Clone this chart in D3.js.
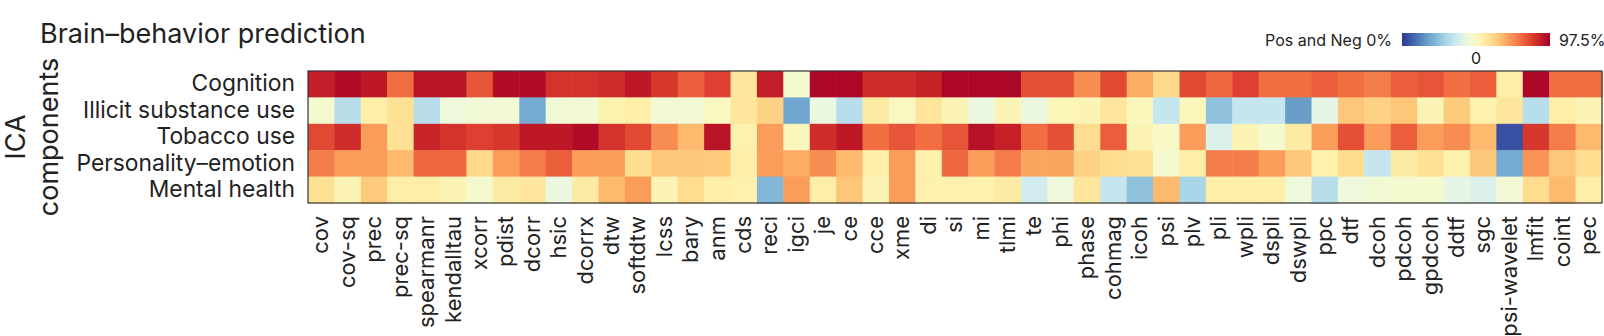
<!DOCTYPE html>
<html><head><meta charset="utf-8">
<script src="https://cdn.jsdelivr.net/npm/d3@7"></script>
<style>body{margin:0;background:#fff}text{font-family:Inter,"Open Sans",sans-serif;fill:#222}</style>
</head><body><svg id="c" width="1604" height="336"></svg>
<script>
const methods = ["cov","cov-sq","prec","prec-sq","spearmanr","kendalltau","xcorr","pdist","dcorr","hsic","dcorrx","dtw","softdtw","lcss","bary","anm","cds","reci","igci","je","ce","cce","xme","di","si","mi","tlmi","te","phi","phase","cohmag","icoh","psi","plv","pli","wpli","dspli","dswpli","ppc","dtf","dcoh","pdcoh","gpdcoh","ddtf","sgc","psi-wavelet","lmfit","coint","pec"];
const components = ["Cognition","Illicit substance use","Tobacco use","Personality–emotion","Mental health"];
const cognition = [0.88,0.95,0.9,0.6,0.92,0.92,0.68,0.95,0.95,0.8,0.8,0.82,0.9,0.78,0.65,0.75,0.15,0.88,-0.05,0.97,0.97,0.82,0.82,0.86,0.97,0.97,0.97,0.7,0.7,0.5,0.72,0.4,0.22,0.72,0.62,0.75,0.6,0.6,0.65,0.6,0.55,0.65,0.68,0.6,0.65,0.1,0.97,0.6,0.6];
const illicit = [-0.05,-0.35,0.1,0.18,-0.35,-0.1,-0.08,-0.08,-0.6,-0.08,-0.08,0.06,0.1,-0.08,-0.08,0.0,0.15,0.25,-0.62,-0.12,-0.35,0.12,0.0,0.16,0.05,-0.12,0.05,-0.12,0.03,0.05,0.15,0.02,-0.3,0.02,-0.5,-0.3,-0.3,-0.65,-0.15,0.3,0.25,0.3,0.05,0.28,0.08,0.15,-0.35,0.1,0.05];
const tobacco = [0.72,0.82,0.45,0.18,0.85,0.8,0.75,0.78,0.9,0.9,0.95,0.8,0.72,0.5,0.35,0.92,0.08,0.45,0.02,0.82,0.9,0.6,0.68,0.6,0.68,0.93,0.87,0.6,0.7,0.2,0.65,0.05,-0.02,0.45,-0.2,0.05,-0.05,0.12,0.45,0.7,0.45,0.65,0.45,0.5,0.35,-0.92,0.78,0.55,0.35];
const personality = [0.55,0.45,0.45,0.35,0.62,0.62,0.22,0.45,0.55,0.65,0.45,0.45,0.2,0.3,0.3,0.28,0.1,0.45,0.4,0.5,0.35,0.1,0.45,0.08,0.62,0.45,0.55,0.42,0.42,0.25,0.2,0.18,-0.05,0.1,0.55,0.55,0.45,0.3,0.08,0.2,-0.3,0.12,0.18,0.08,0.3,-0.6,0.48,0.3,0.2];
const mental = [0.18,0.05,0.28,0.1,0.1,0.05,-0.05,0.12,0.15,-0.12,0.12,0.35,0.45,0.05,0.2,0.1,0.08,-0.55,0.45,0.1,0.3,0.05,0.45,0.08,0.08,0.08,0.12,-0.25,-0.1,0.15,-0.3,-0.5,0.35,-0.4,0.1,0.1,0.1,-0.1,-0.35,-0.1,-0.08,-0.05,-0.05,-0.15,-0.2,-0.08,0.2,0.35,0.1];
const seriesValues = [cognition, illicit, tobacco, personality, mental];
const legendLabels = ["Pos and Neg 0%", "97.5%", "0"];

const svg = d3.select("#c");
const L = 308, R = 1602, T = 71, B = 203;
const x = d3.scaleBand().domain(methods).range([L, R]);
const y = d3.scaleBand().domain(components).range([T, B]);
const color = d3.scaleSequential(t => d3.interpolateRdYlBu(1 - t)).domain([-1, 1]);

const cells = [];
components.forEach((c, j) => methods.forEach((m, i) => cells.push({c, m, v: seriesValues[j][i]})));
svg.append("g").selectAll("rect").data(cells).join("rect")
  .attr("x", d => x(d.m)).attr("y", d => y(d.c))
  .attr("width", x.bandwidth() + 0.5).attr("height", y.bandwidth() + 0.5)
  .attr("fill", d => color(d.v));
svg.append("rect").attr("x", L).attr("y", T).attr("width", R - L).attr("height", B - T)
  .attr("fill", "none").attr("stroke", "#333").attr("stroke-width", 1.2);

// row labels
const yAxis = svg.append("g").attr("transform", `translate(${L},0)`)
  .call(d3.axisLeft(y).tickSize(0).tickPadding(13));
yAxis.select(".domain").remove();
yAxis.selectAll("text").style("font-size", "22.8px").attr("fill", "#222").style("font-family", "Inter");

// column labels
const xAxis = svg.append("g").attr("transform", `translate(0,${B})`)
  .call(d3.axisBottom(x).tickSize(0));
xAxis.select(".domain").remove();
xAxis.selectAll("text").style("font-size", "22px").attr("fill", "#222").style("font-family", "Inter")
  .attr("text-anchor", "end").attr("transform", "rotate(-90)")
  .attr("x", -13).attr("y", 0).attr("dy", "0.33em");

// titles
svg.append("text").attr("x", 40).attr("y", 43).style("font-size", "27px").text("Brain–behavior prediction");
svg.append("text").attr("transform", "translate(25,137) rotate(-90)").attr("text-anchor", "middle")
  .style("font-size", "27px").text("ICA");
svg.append("text").attr("transform", "translate(58,137) rotate(-90)").attr("text-anchor", "middle")
  .style("font-size", "27px").text("components");

// legend
const gx = d3.scaleLinear().domain([-1, 1]).range([1402, 1550]);
const defs = svg.append("defs");
const grad = defs.append("linearGradient").attr("id", "lg");
d3.range(0, 1.001, 0.05).forEach(t => grad.append("stop").attr("offset", t).attr("stop-color", color(-1 + 2 * t)));
svg.append("rect").attr("x", gx(-1)).attr("y", 33).attr("width", gx(1) - gx(-1)).attr("height", 13).attr("fill", "url(#lg)");
svg.append("text").attr("x", 1392).attr("y", 46).attr("text-anchor", "end").style("font-size", "16px").text(legendLabels[0]);
svg.append("text").attr("x", 1559).attr("y", 46).style("font-size", "16px").text(legendLabels[1]);
svg.append("text").attr("x", gx(0)).attr("y", 64).attr("text-anchor", "middle").style("font-size", "16px").text(legendLabels[2]);
</script></body></html>
